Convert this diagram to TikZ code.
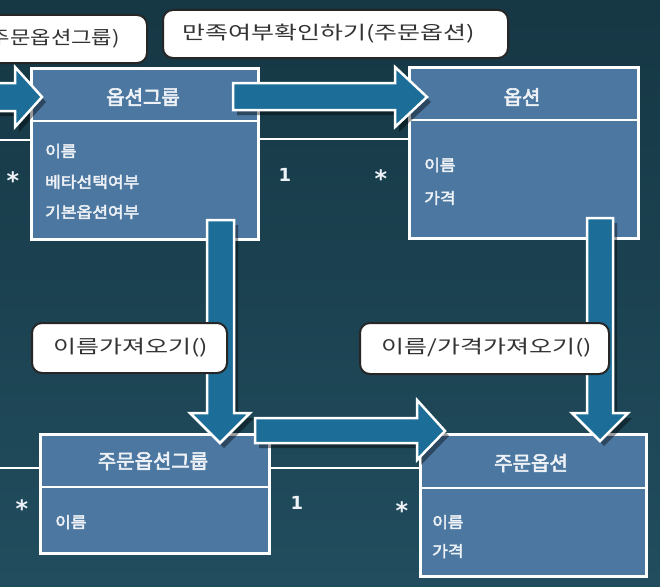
\documentclass[tikz,border=0pt]{standalone}
\usepackage{fontspec}
\usetikzlibrary{shadows}
\newfontfamily\kr[FakeStretch=1.35]{Noto Sans CJK KR}
\newfontfamily\krn[FakeStretch=1.2]{Noto Sans CJK KR}
\newfontfamily\krb[FakeBold=3]{Noto Sans CJK KR}
\newfontfamily\krbw[FakeBold=3,FakeStretch=1.1]{Noto Sans CJK KR}
\newfontfamily\dvb{DejaVu Sans Bold}
\definecolor{bgA}{HTML}{163744}
\definecolor{bgB}{HTML}{214D5E}
\definecolor{boxfill}{HTML}{4B77A1}
\definecolor{arrowfill}{HTML}{1C6E98}
\definecolor{labeltext}{HTML}{333333}
\definecolor{boxtext}{HTML}{EEF2F6}
\begin{document}
\begin{tikzpicture}[x=1pt,y=-1pt,
 classbox/.style={draw=white, line width=2.5pt, fill=boxfill, anchor=north west, inner sep=0pt},
 divider/.style={draw=white, line width=2.5pt},
 title/.style={text=boxtext, font=\krb\fontsize{20}{24}\selectfont},
 attr/.style={text=boxtext, anchor=west, inner sep=0pt, font=\krbw\fontsize{15.5}{18}\selectfont},
 mult/.style={text=boxtext, inner sep=0pt, font=\dvb\fontsize{18}{20}\selectfont},
 star/.style={text=boxtext, inner sep=0pt, font=\dvb\fontsize{24}{26}\selectfont},
 assoc/.style={draw=white, line width=2.5pt},
 blockarrow/.style={draw=white, line width=2.5pt, fill=arrowfill, line join=miter,
   drop shadow={shadow xshift=4pt, shadow yshift=-5pt, opacity=0.4, fill=black}},
 msg/.style={draw=black!85, line width=2pt, fill=white, rounded corners=10pt, inner sep=0pt},
 msgtext/.style={text=labeltext, font=\kr\fontsize{18.5}{22}\selectfont, inner sep=0pt},
]
\clip (0,0) rectangle (660,586);
\fill[top color=bgA, bottom color=bgB] (0,0) rectangle (660,586);

% boxes
\node[classbox, minimum width=227, minimum height=171] (og) at (30,67) {};
\node[classbox, minimum width=229, minimum height=171] (opt) at (408,66) {};
\node[classbox, minimum width=229, minimum height=119] (oog) at (39,433) {};
\node[classbox, minimum width=226, minimum height=142] (oo) at (419,433) {};

% association lines
\coordinate (lf1) at (0,140);
\coordinate (lf2) at (0,468);
\draw[assoc] (lf1) -- (og.west |- lf1);
\draw[assoc] (og.east |- 0,139) -- (opt.west |- 0,139);
\draw[assoc] (lf2) -- (oog.west |- lf2);
\draw[assoc] (oog.east |- 0,468) -- (oo.west |- 0,468);

% dividers
\draw[divider] (og.west |- 0,121) -- (og.east |- 0,121);
\draw[divider] (opt.west |- 0,120) -- (opt.east |- 0,120);
\draw[divider] (oog.west |- 0,487) -- (oog.east |- 0,487);
\draw[divider] (oo.west |- 0,488) -- (oo.east |- 0,488);

% titles
\node[title] (ogt) at (143,97) {옵션그룹};
\node[title] (optt) at (522,97) {옵션};
\node[title] (oogt) at (153,461) {주문옵션그룹};
\node[title] (oot) at (531,463) {주문옵션};

% attributes
\node[attr] (oga1) at (45,151) {이름};
\node[attr] (oga2) at (45,182) {베타선택여부};
\node[attr] (oga3) at (45,212) {기본옵션여부};
\node[attr] (opta1) at (424,165) {이름};
\node[attr] (opta2) at (424,198) {가격};
\node[attr] (ooga1) at (55,522) {이름};
\node[attr] (ooa1) at (432,522) {이름};
\node[attr] (ooa2) at (432,551) {가격};

% block arrows
\draw[blockarrow] (-10,83) -- (15,83) -- (15,67) -- (42,97) -- (15,127) -- (15,111) -- (-10,111) -- cycle;
\draw[blockarrow] (233,83) -- (395,83) -- (395,67) -- (427,97) -- (395,127) -- (395,110) -- (233,110) -- cycle;
\draw[blockarrow] (207,220) -- (234,220) -- (234,413) -- (250,413) -- (220,443) -- (190,413) -- (207,413) -- cycle;
\draw[blockarrow] (587,218) -- (613,218) -- (613,413) -- (628,413) -- (600,441) -- (572,413) -- (587,413) -- cycle;
\draw[blockarrow] (255,418) -- (417,418) -- (417,400) -- (445,431) -- (417,460) -- (417,443) -- (255,443) -- cycle;

% message labels
\node[msg, minimum width=177, minimum height=48] (l0) at (58.5,39) {};
\node[msgtext, anchor=east, font=\krn\fontsize{18.5}{22}\selectfont] (l0t) at (120,39) {(주문옵션그룹)};
\node[msg, minimum width=345, minimum height=48] (l1) at (335.5,34) {};
\node[msgtext] (l1t) at (329,34) {만족여부확인하기(주문옵션)};
\node[msg, minimum width=195, minimum height=50] (l2) at (129.5,348) {};
\node[msgtext] (l2t) at (131,348) {이름가져오기()};
\node[msg, minimum width=249, minimum height=51] (l3) at (484.5,348.5) {};
\node[msgtext] (l3t) at (487,348) {이름/가격가져오기()};

% multiplicities
\node[star] (m1) at (13,181) {*};
\node[mult] (m2) at (285,175) {1};
\node[star] (m3) at (381,179) {*};
\node[star] (m4) at (22,509) {*};
\node[mult] (m5) at (297,503) {1};
\node[star] (m6) at (402,511) {*};
\end{tikzpicture}
\end{document}
